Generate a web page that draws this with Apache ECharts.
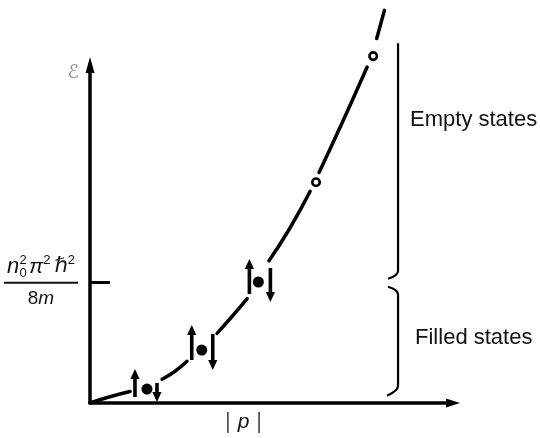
<!DOCTYPE html>
<html>
<head>
<meta charset="utf-8">
<script src="https://cdn.jsdelivr.net/npm/echarts@6.0.0/dist/echarts.min.js"></script>
<style>
html,body{margin:0;padding:0;background:#fff;}
#chart{width:540px;height:438px;}
</style>
</head>
<body>
<div id="chart"></div>
<script>
// ---- data (p in units of the Fermi momentum, energy in units of n0²π²ħ²/8m) ----
const curveSeg1 = [[0, 0], [0.113, 0.05], [0.238, 0.096]];
const curveSeg2 = [[0.429, 0.198], [0.506, 0.264], [0.577, 0.347]];
const curveSeg3 = [[0.756, 0.579], [0.845, 0.719], [0.935, 0.868]];
const curveSeg4 = [[1.065, 1.182], [1.190, 1.455], [1.310, 1.760]];
const curveSeg5 = [[1.363, 1.917], [1.506, 2.347], [1.649, 2.793]];
const curveSeg6 = [[1.706, 3.03], [1.752, 3.264]];
const curveSegments = [curveSeg1, curveSeg2, curveSeg3, curveSeg4, curveSeg5, curveSeg6];

const filledP = [0.339, 0.665, 1.002];
const filledE = [0.116, 0.440, 1.006];
const emptyP = [1.345, 1.685];
const emptyE = [1.835, 2.884];

const fermiTick = [1];
const braceP = 1.833;
const emptyRange = [1.0, 2.99];
const filledRange = [0.06, 1.0];
const stateLabels = ['Empty states', 'Filled states'];
const stateLabelE = [2.355, 0.537];

const pAxisMax = 2.16;
const eAxisMax = 2.81;

// ---- chart ----
const chart = echarts.init(document.getElementById('chart'), null, {renderer: 'canvas'});
const FONT = 'Liberation Sans, Arial, DejaVu Sans, sans-serif';

function arrowPoly(cx, yTail, yTip) {
  const dir = yTip > yTail ? 1 : -1;
  const sh = 1.8, hh = 4.6, hl = 10;
  const yb = yTip - dir * hl;
  return [[cx - sh, yTail], [cx - sh, yb], [cx - hh, yb], [cx, yTip], [cx + hh, yb], [cx + sh, yb], [cx + sh, yTail]];
}
const spinGeom = [
  {ux: -12, ut: 8, uh: -20, dx: 10, dt: -6, dh: 13},
  {ux: -10, ut: 10, uh: -25, dx: 11, dt: -16, dh: 20},
  {ux: -9, ut: 12, uh: -23, dx: 12, dt: -14, dh: 20}
];

const series = [];
curveSegments.forEach(function (seg) {
  series.push({
    type: 'line', data: seg, smooth: true, symbol: 'none', clip: false, silent: true,
    lineStyle: {color: '#000', width: 3.5, cap: 'round'}, z: 2
  });
});
series.push({
  type: 'scatter', data: filledP.map((p, i) => [p, filledE[i]]), symbol: 'circle', symbolSize: 11,
  itemStyle: {color: '#000', opacity: 1}, clip: false, z: 3, silent: true
});
series.push({
  type: 'scatter', data: emptyP.map((p, i) => [p, emptyE[i]]), symbol: 'circle', symbolSize: 7.5,
  itemStyle: {color: '#fff', borderColor: '#000', borderWidth: 2.6, opacity: 1}, clip: false, z: 3, silent: true
});
series.push({
  type: 'custom', data: filledP.map((p, i) => [p, filledE[i]]), clip: false, z: 4, silent: true,
  renderItem: function (params, api) {
    const c = api.coord([api.value(0), api.value(1)]);
    const g = spinGeom[params.dataIndex];
    return {
      type: 'group',
      children: [
        {type: 'polygon', shape: {points: arrowPoly(c[0] + g.ux, c[1] + g.ut, c[1] + g.uh)}, style: {fill: '#000'}},
        {type: 'polygon', shape: {points: arrowPoly(c[0] + g.dx, c[1] + g.dt, c[1] + g.dh)}, style: {fill: '#000'}}
      ]
    };
  }
});
series.push({
  type: 'custom', data: [[braceP, emptyRange[0], emptyRange[1], 0], [braceP, filledRange[0], filledRange[1], 1]],
  clip: false, z: 4, silent: true,
  renderItem: function (params, api) {
    const x = api.coord([api.value(0), 0])[0];
    const yLo = api.coord([0, api.value(1)])[1];
    const yHi = api.coord([0, api.value(2)])[1];
    let d;
    if (api.value(3) === 0) {
      d = 'M' + x + ' ' + yHi + ' L' + x + ' ' + (yLo - 12) + ' Q' + x + ' ' + (yLo - 7) + ' ' + (x - 10) + ' ' + (yLo - 4);
    } else {
      d = 'M' + (x - 10) + ' ' + (yHi + 4) + ' Q' + x + ' ' + (yHi + 7) + ' ' + x + ' ' + (yHi + 12) +
          ' L' + x + ' ' + (yLo - 10) + ' Q' + x + ' ' + (yLo - 5) + ' ' + (x - 11) + ' ' + yLo;
    }
    return {type: 'path', shape: {pathData: d}, style: {fill: null, stroke: '#000', lineWidth: 2.2}};
  }
});
series.push({
  type: 'custom', data: stateLabelE.map(e => [braceP, e]), clip: false, z: 4, silent: true,
  renderItem: function (params, api) {
    const c = api.coord([api.value(0), api.value(1)]);
    return {
      type: 'text',
      x: c[0] + (params.dataIndex === 0 ? 12 : 17), y: c[1],
      style: {text: stateLabels[params.dataIndex], fill: '#111', font: '22px ' + FONT, textAlign: 'left', textVerticalAlign: 'middle'}
    };
  }
});

const supStyle = {fontSize: 13, fontFamily: FONT, color: '#111', verticalAlign: 'top', lineHeight: 13, align: 'center'};
const option = {
  animation: false,
  backgroundColor: '#fff',
  grid: {left: 90, right: 87, top: 65, bottom: 33, containLabel: false},
  xAxis: {
    type: 'value', min: 0, max: pAxisMax,
    axisLine: {show: true, onZero: false, symbol: ['none', 'triangle'], symbolSize: [9, 14], lineStyle: {color: '#000', width: 3.5}},
    axisTick: {show: false}, axisLabel: {show: false}, splitLine: {show: false},
    name: '{b||}{i|p}{b||}', nameLocation: 'middle', nameGap: 8,
    nameTextStyle: {
      padding: [0, 56, 0, 0],
      rich: {
        b: {fontSize: 22, fontFamily: FONT, color: '#555', align: 'center'},
        i: {fontSize: 21, fontFamily: FONT, fontStyle: 'italic', color: '#111', padding: [0, 7, 0, 7], align: 'center'}
      }
    }
  },
  yAxis: {
    type: 'value', min: 0, max: eAxisMax,
    axisLine: {show: true, onZero: false, symbol: ['none', 'triangle'], symbolSize: [9, 16], lineStyle: {color: '#000', width: 3.5}},
    axisTick: {show: true, inside: true, length: 20, customValues: fermiTick, lineStyle: {color: '#000', width: 3}},
    axisLabel: {
      show: true, margin: 12, customValues: fermiTick,
      formatter: function () {
        return '{n|n}{s3| }{sub|0}{sup|2}{s4| }{pi|π}{sup2|2}{s2| }{h|ℏ}{sup2|2}\n{bar| }\n{den|8}{m|m}';
      },
      rich: {
        n: {fontSize: 22, fontFamily: FONT, fontStyle: 'italic', color: '#111', lineHeight: 26, align: 'center'},
        s3: {width: 4, fontSize: 10, lineHeight: 26, align: 'center'},
        s4: {width: 6, fontSize: 10, lineHeight: 26, align: 'center'},
        s2: {width: 4, fontSize: 10, lineHeight: 26, align: 'center'},
        sub: {fontSize: 13, fontFamily: FONT, color: '#111', verticalAlign: 'bottom', lineHeight: 13, width: 0, align: 'center'},
        sup: Object.assign({width: 0}, supStyle),
        sup2: Object.assign({}, supStyle),
        pi: {fontSize: 21, fontFamily: FONT, fontStyle: 'italic', color: '#111', lineHeight: 26, align: 'center'},
        h: {fontSize: 21, fontFamily: 'DejaVu Sans, ' + FONT, fontStyle: 'italic', color: '#111', lineHeight: 26, align: 'center'},
        bar: {width: 74, height: 2, fontSize: 2, lineHeight: 6, backgroundColor: '#111', align: 'center'},
        den: {fontSize: 19, fontFamily: FONT, color: '#111', lineHeight: 26, align: 'center'},
        m: {fontSize: 19, fontFamily: FONT, fontStyle: 'italic', color: '#111', lineHeight: 26, align: 'center'}
      }
    },
    splitLine: {show: false},
    name: 'ℰ', nameLocation: 'end', nameGap: -8,
    nameTextStyle: {align: 'right', verticalAlign: 'middle', padding: [0, 11, 0, 0], fontSize: 19, fontStyle: 'italic', color: '#888', fontFamily: 'DejaVu Sans, ' + FONT}
  },
  series: series
};
chart.setOption(option);
</script>
</body>
</html>
